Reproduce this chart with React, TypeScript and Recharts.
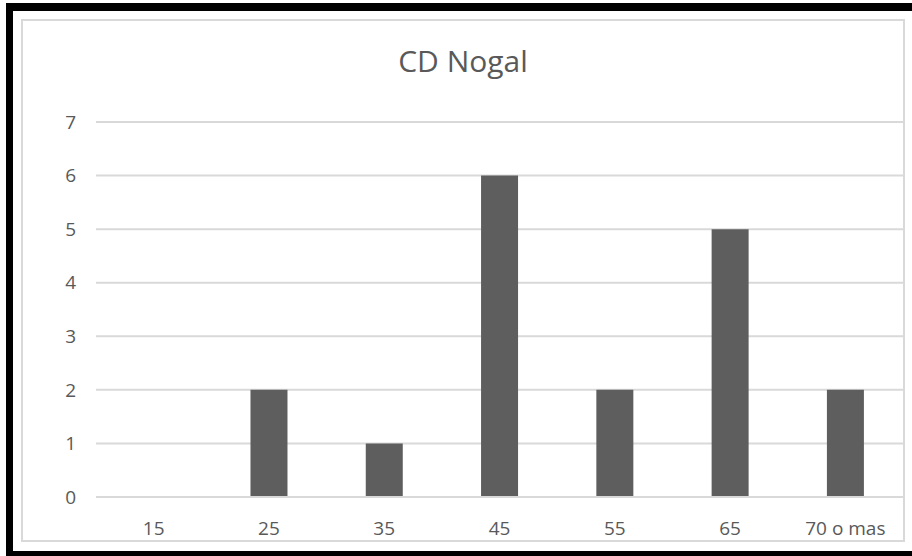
import { BarChart, Bar, XAxis, YAxis, CartesianGrid } from "recharts"

// Frequency per age class
const classes = ["15", "25", "35", "45", "55", "65", "70 o mas"]
const frequency = [0, 2, 1, 6, 2, 5, 2]
const yTicks = [0, 1, 2, 3, 4, 5, 6, 7]

const data = classes.map((clase, i) => ({ clase, frecuencia: frequency[i] }))

const FONT = "'Open Sans', 'Noto Sans', sans-serif"
const TEXT = "#595959"

export default function App() {
  return (
    <div
      style={{
        position: "fixed",
        left: 0,
        top: 0,
        width: 912,
        height: 556,
        background: "#fff",
        overflow: "hidden",
        fontFamily: FONT,
      }}
    >
      {/* black frame (top, left, bottom) */}
      <div style={{ position: "absolute", left: 6, top: 3, width: 906, height: 8, background: "#000" }} />
      <div style={{ position: "absolute", left: 6, top: 3, width: 7, height: 553, background: "#000" }} />
      <div style={{ position: "absolute", left: 6, top: 551, width: 906, height: 5, background: "#000" }} />
      {/* chart area border */}
      <div
        style={{
          position: "absolute",
          left: 21,
          top: 19,
          width: 880,
          height: 519,
          border: "2px solid #d9d9d9",
        }}
      />
      <div
        style={{
          position: "absolute",
          left: 22,
          width: 882,
          top: 44,
          textAlign: "center",
          fontSize: 30,
          color: TEXT,
          lineHeight: "34px",
        }}
      >
        CD Nogal
      </div>
      <div style={{ position: "absolute", left: 0, top: 0 }}>
        <BarChart
          width={912}
          height={556}
          data={data}
          margin={{ top: 122, right: 9, bottom: 19, left: 36 }}
          barCategoryGap="34%"
        >
          <CartesianGrid vertical={false} stroke="#d9d9d9" strokeWidth={2} />
          <XAxis
            dataKey="clase"
            height={40}
            axisLine={{ stroke: "#d9d9d9", strokeWidth: 2 }}
            tickLine={false}
            tickSize={0}
            tickMargin={25}
            tick={{ fill: TEXT, fontSize: 19, fontFamily: FONT }}
            interval={0}
          />
          <YAxis
            width={60}
            domain={[0, 7]}
            ticks={yTicks}
            axisLine={false}
            tickLine={false}
            tickSize={0}
            tickMargin={20}
            tick={{ fill: TEXT, fontSize: 19, fontFamily: FONT }}
          />
          <Bar dataKey="frecuencia" fill="#5e5e5e" isAnimationActive={false} />
        </BarChart>
      </div>
    </div>
  )
}
